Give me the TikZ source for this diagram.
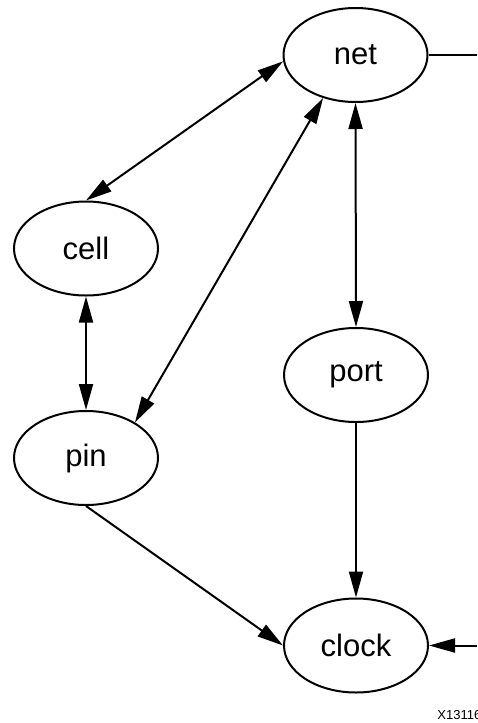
\documentclass[tikz,border=0pt]{standalone}
\usepackage{fontspec}
\setmainfont{Liberation Sans}
\usetikzlibrary{arrows.meta,shapes}

\begin{document}
\begin{tikzpicture}[x=0.5pt, y=-0.5pt,
    obj/.style={draw, ellipse, line width=1pt, minimum width=72pt, minimum height=47pt, inner sep=0pt, font=\fontsize{15.5}{18}\selectfont},
    link/.style={line width=1pt, -{Triangle[length=13pt,width=7pt]}},
    dlink/.style={line width=1pt, {Triangle[length=13pt,width=7pt]}-{Triangle[length=13pt,width=7pt]}}]
\useasboundingbox (0,0) rectangle (477,723);
% objects
\node[obj] (net) at (355.5,55) {net};
\node[obj] (cell) at (86,248.5) {cell};
\node[obj] (pin) at (86,458) {pin};
\node[obj] (port) at (356,375) {port};
\node[obj] (clock) at (356,645.5) {clock};
\coordinate (netout) at (477,55);
\coordinate (clockin) at (477,645.5);
% relations
\draw[dlink] (net.185) -- (cell.north);
\draw[dlink] (pin.36) -- (net.233);
\draw[dlink] (cell.south) -- (pin.north);
\draw[dlink] (net.south) -- (port.north);
\draw[link] (port.south) -- (clock.north);
\draw[link] (pin.south) -- (clock.west);
\draw[line width=1pt] (net.east) -- (netout);
\draw[link] (clockin) -- (clock.east);
\node[anchor=base west, inner sep=0pt, font=\fontsize{6.5}{8}\selectfont] (fig) at (437,719) {X13116};
\end{tikzpicture}
\end{document}
